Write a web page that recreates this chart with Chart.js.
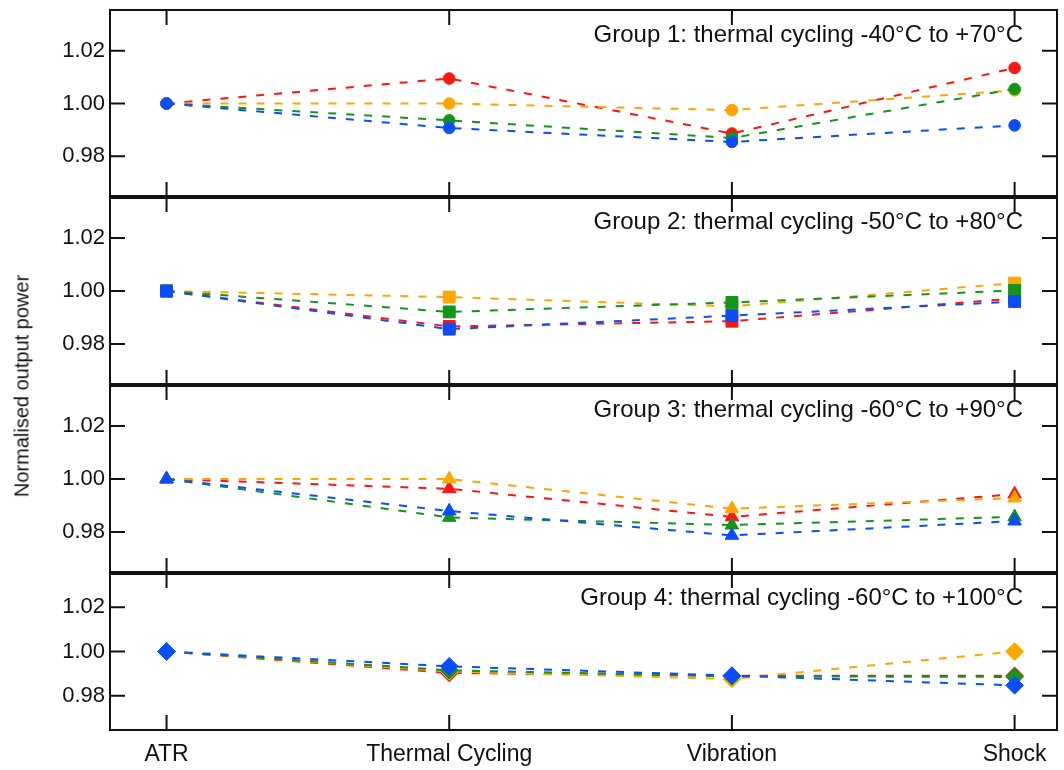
<!DOCTYPE html>
<html><head><meta charset="utf-8">
<script src="https://cdn.jsdelivr.net/npm/chart.js@4.4.1/dist/chart.umd.min.js"></script>
<style>
html,body{margin:0;padding:0;background:#fff;}
#wrap{position:relative;width:1064px;height:770px;overflow:hidden;background:#fff;}
canvas{position:absolute;left:0;}
#ytitle{position:absolute;left:22px;top:386px;transform:translate(-50%,-50%) rotate(-90deg);font:20px 'Liberation Sans',Arial,sans-serif;white-space:nowrap;color:#111;}
</style></head><body>
<div id="wrap">
<canvas id="c1" width="1064" height="200" style="top:0px"></canvas>
<canvas id="c2" width="1064" height="200" style="top:190px"></canvas>
<canvas id="c3" width="1064" height="200" style="top:378px"></canvas>
<canvas id="c4" width="1064" height="204" style="top:566px"></canvas>
<div id="ytitle">Normalised output power</div>
</div>
<script>
// ---- data ----
const categories = ['ATR', 'Thermal Cycling', 'Vibration', 'Shock'];
const yTickValues = [0.98, 1.00, 1.02];
const groupTitles = [
  'Group 1: thermal cycling -40°C to +70°C',
  'Group 2: thermal cycling -50°C to +80°C',
  'Group 3: thermal cycling -60°C to +90°C',
  'Group 4: thermal cycling -60°C to +100°C'
];
// Group 1 (circles)
const g1Red    = [1.000, 1.0095, 0.9886, 1.0135];
const g1Orange = [1.000, 1.0000, 0.9975, 1.0050];
const g1Green  = [1.000, 0.9936, 0.9869, 1.0055];
const g1Blue   = [1.000, 0.9907, 0.9854, 0.9917];
// Group 2 (squares)
const g2Red    = [1.000, 0.9866, 0.9886, 0.9972];
const g2Orange = [1.000, 0.9977, 0.9942, 1.0030];
const g2Green  = [1.000, 0.9921, 0.9957, 1.0002];
const g2Blue   = [1.000, 0.9856, 0.9907, 0.9960];
// Group 3 (triangles)
const g3Red    = [1.000, 0.9963, 0.9857, 0.9943];
const g3Orange = [1.000, 1.0000, 0.9888, 0.9928];
const g3Green  = [1.000, 0.9855, 0.9826, 0.9857];
const g3Blue   = [1.000, 0.9879, 0.9787, 0.9841];
// Group 4 (diamonds)
const g4Red    = [1.000, 0.9903, 0.9890, 0.9890];
const g4Orange = [1.000, 0.9910, 0.9876, 1.0000];
const g4Green  = [1.000, 0.9915, 0.9888, 0.9885];
const g4Blue   = [1.000, 0.9933, 0.9891, 0.9847];

// ---- styling / layout ----
const COLORS = {red: '#ff1414', orange: '#ffa500', green: '#12951a', blue: '#0a4dff'};
const FONT = "'Liberation Sans', Arial, Helvetica, sans-serif";
Chart.defaults.font.family = FONT;
Chart.defaults.color = '#111';

const groups = [
  {id: 'c1', style: 'circle',   radius: 5.8, series: [g1Red, g1Orange, g1Green, g1Blue], pad: {top: 10, bottom: 3}, last: false, first: true},
  {id: 'c2', style: 'rect',     radius: 8.4, series: [g2Red, g2Orange, g2Green, g2Blue], pad: {top: 7, bottom: 5}, last: false},
  {id: 'c3', style: 'triangle', radius: 7.8, series: [g3Red, g3Orange, g3Green, g3Blue], pad: {top: 7, bottom: 5}, last: false},
  {id: 'c4', style: 'rectRot',  radius: 8.8, series: [g4Red, g4Orange, g4Green, g4Blue], pad: {top: 7, bottom: 0}, last: true}
];

const framePlugin = {
  id: 'panelFrame',
  afterDraw(chart, args, opts) {
    const {ctx, chartArea: a, scales} = chart;
    ctx.save();
    ctx.strokeStyle = '#111';
    ctx.lineWidth = 2;
    ctx.strokeRect(a.left, a.top, a.right - a.left, a.bottom - a.top);
    if (!opts.first) {
      ctx.lineWidth = 4;
      ctx.beginPath(); ctx.moveTo(a.left - 1, a.top); ctx.lineTo(a.right + 1, a.top); ctx.stroke();
    }
    ctx.lineWidth = 2;
    const L = 15;
    ctx.beginPath();
    scales.x.ticks.forEach(t => {
      const px = scales.x.getPixelForValue(t.value);
      ctx.moveTo(px, a.top); ctx.lineTo(px, a.top + L);
      ctx.moveTo(px, a.bottom); ctx.lineTo(px, a.bottom - L);
    });
    scales.y.ticks.forEach(t => {
      const py = scales.y.getPixelForValue(t.value);
      ctx.moveTo(a.left, py); ctx.lineTo(a.left + L, py);
      ctx.moveTo(a.right, py); ctx.lineTo(a.right - L, py);
    });
    ctx.stroke();
    ctx.fillStyle = '#111';
    ctx.font = '24px ' + FONT;
    ctx.textAlign = 'right';
    ctx.textBaseline = 'alphabetic';
    ctx.fillText(opts.text, a.right - 34, a.top + 32);
    ctx.restore();
  }
};

groups.forEach((g, gi) => {
  const names = ['red', 'orange', 'green', 'blue'];
  const datasets = g.series.map((vals, si) => ({
    label: names[si],
    data: vals.map((v, i) => ({x: i, y: v})),
    borderColor: COLORS[names[si]],
    backgroundColor: COLORS[names[si]],
    borderWidth: 2,
    borderDash: [8, 10],
    pointStyle: g.style,
    pointRadius: g.radius,
    pointBorderWidth: 1,
    pointBackgroundColor: COLORS[names[si]],
    pointBorderColor: COLORS[names[si]],
    tension: 0,
    clip: false,
    order: 3 - si
  }));
  new Chart(document.getElementById(g.id), {
    type: 'line',
    data: {datasets},
    plugins: [framePlugin],
    options: {
      responsive: false,
      animation: false,
      devicePixelRatio: 1,
      layout: {autoPadding: false, padding: {left: 0, right: 7, top: g.pad.top, bottom: g.pad.bottom}},
      plugins: {
        legend: {display: false},
        tooltip: {enabled: false},
        panelFrame: {text: groupTitles[gi], first: !!g.first}
      },
      scales: {
        x: {
          type: 'linear',
          min: -0.2, max: 3.15,
          display: g.last,
          afterBuildTicks: s => { s.ticks = categories.map((c, i) => ({value: i})); },
          afterFit: s => { s.height = g.last ? 40 : 0; s.paddingLeft = 0; s.paddingRight = 0; },
          grid: {display: false, drawTicks: false},
          border: {display: false},
          ticks: {
            callback: v => categories[v],
            font: {size: 23},
            color: '#111',
            padding: 11,
            maxRotation: 0,
            autoSkip: false
          }
        },
        y: {
          type: 'linear',
          min: 0.9645, max: 1.0355,
          afterBuildTicks: s => { s.ticks = yTickValues.map(v => ({value: v})); },
          afterFit: s => { s.width = 110; s.paddingTop = 0; s.paddingBottom = 0; },
          grid: {display: false, drawTicks: false},
          border: {display: false},
          ticks: {
            callback: v => v.toFixed(2),
            font: {size: 22},
            color: '#111',
            padding: 5
          }
        }
      }
    }
  });
});
</script>
</body></html>
